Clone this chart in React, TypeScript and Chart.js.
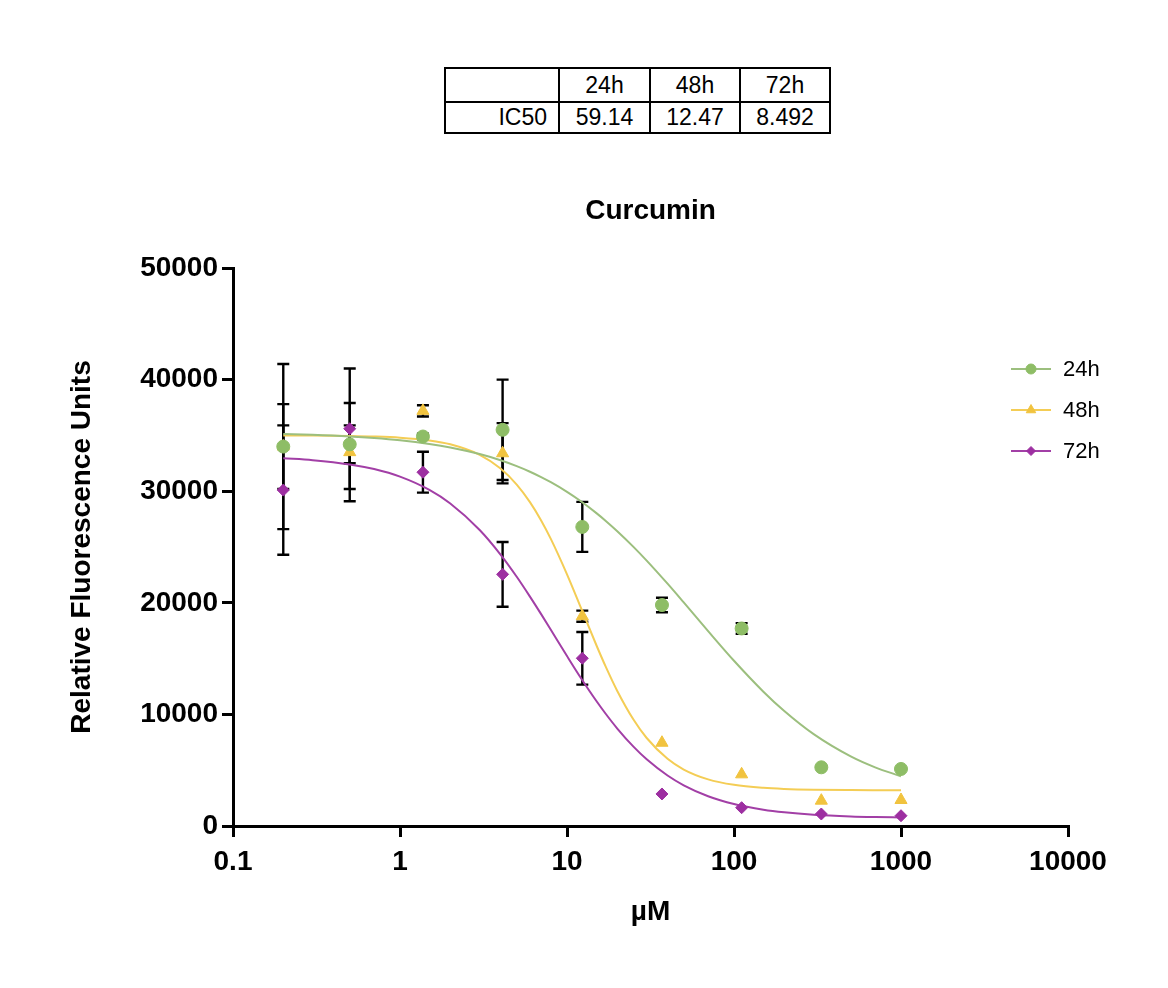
import React, { useEffect, useRef } from 'react';
import { Chart, registerables } from 'chart.js';
import { drawPoint } from 'chart.js/helpers';

Chart.register(...registerables);

// ---- data ----
const doses = [0.2, 0.5, 1.372, 4.115, 12.35, 37.04, 111.1, 333.3, 1000];

const resp24 = [34000, 34200, 34900, 35500, 26800, 19800, 17700, 5260, 5110];
const sd24 = [7400, 1700, 250, 4500, 2240, 650, 480, 0, 0];
const resp48 = [34000, 33500, 37200, 33400, 18800, 7460, 4630, 2270, 2330];
const sd48 = [3800, 4400, 500, 2700, 500, 0, 0, 0, 0];
const resp72 = [30100, 35600, 31700, 22550, 15030, 2870, 1640, 1075, 920];
const sd72 = [5800, 5400, 1830, 2900, 2360, 0, 0, 0, 0];

// fitted curves as they appear in the picture
const fitX = [0.2, 0.3, 0.5, 0.7, 1, 1.5, 2, 3, 4, 5, 6, 7, 8, 10, 12, 15, 17, 20, 25, 30, 40, 50, 70, 100, 150, 200, 300, 500, 700, 1000];
const fit24 = [35129, 35052, 34904, 34762, 34557, 34230, 33918, 33326, 32770, 32242, 31743, 31263, 30803, 29941, 29140, 28037, 27362, 26418, 25015, 23782, 21711, 20031, 17462, 14807, 12036, 10301, 8229, 6235, 5256, 4455];
const fit48 = [34992, 34982, 34949, 34900, 34797, 34546, 34202, 33260, 32033, 30595, 29020, 27379, 25724, 22551, 19710, 16196, 14323, 12100, 9536, 7884, 6017, 5062, 4178, 3687, 3418, 3323, 3255, 3220, 3210, 3205];
const fit72 = [32953, 32784, 32402, 31981, 31303, 30112, 28894, 26525, 24322, 22334, 20556, 18983, 17579, 15230, 13356, 11197, 10080, 8735, 7110, 5977, 4524, 3649, 2667, 1966, 1459, 1226, 1013, 862, 805, 766];

const seriesNames = ['24h', '48h', '72h'];
const ic50Values = ['59.14', '12.47', '8.492'];
const xTicks = [0.1, 1, 10, 100, 1000, 10000];
const xTickLabels = ['0.1', '1', '10', '100', '1000', '10000'];
const yTicks = [0, 10000, 20000, 30000, 40000, 50000];
const yTickLabels = ['0', '10000', '20000', '30000', '40000', '50000'];

const chartTitle = 'Curcumin';
const xTitle = 'µM';
const yTitle = 'Relative Fluorescence Units';

// ---- styles ----
const FONT = '"Liberation Sans", Arial, Helvetica, sans-serif';
const markerColors = ['#8ebd66', '#f1c33f', '#9d2fa1'];
const lineColors = ['#9cbf7e', '#f4cd55', '#a23fa6'];
const pointStyles = ['circle', 'triangle', 'rectRot'];
const pointRadii = [6.5, 7, 6];

const respSets = [resp24, resp48, resp72];
const sdSets = [sd24, sd48, sd72];
const fitSets = [fit24, fit48, fit72];

const errorBarPlugin = {
  id: 'errorBars',
  beforeDatasetsDraw(chart: any) {
    const { ctx } = chart;
    const xs = chart.scales.x;
    const ys = chart.scales.y;
    ctx.save();
    ctx.strokeStyle = '#000';
    ctx.lineWidth = 2.4;
    chart.data.datasets.forEach((ds: any) => {
      if (!ds.errors) return;
      ds.data.forEach((p: any, i: number) => {
        const e = ds.errors[i];
        if (!e) return;
        const x = xs.getPixelForValue(p.x);
        const yt = ys.getPixelForValue(p.y + e);
        const yb = ys.getPixelForValue(p.y - e);
        ctx.beginPath();
        ctx.moveTo(x, yt);
        ctx.lineTo(x, yb);
        ctx.moveTo(x - 6, yt);
        ctx.lineTo(x + 6, yt);
        ctx.moveTo(x - 6, yb);
        ctx.lineTo(x + 6, yb);
        ctx.stroke();
      });
    });
    ctx.restore();
  },
};

const decorPlugin = {
  id: 'decor',
  afterDraw(chart: any) {
    const { ctx } = chart;
    ctx.save();
    // title
    ctx.fillStyle = '#000';
    ctx.font = `bold 28px ${FONT}`;
    ctx.textAlign = 'center';
    ctx.textBaseline = 'middle';
    const area = chart.chartArea;
    ctx.fillText(chartTitle, (area.left + area.right) / 2, 203);
    // legend
    const lx1 = 1003, lx2 = 1043, tx = 1055;
    const ly = [361, 402, 443];
    seriesNames.forEach((name, i) => {
      ctx.strokeStyle = lineColors[i];
      ctx.lineWidth = 2;
      ctx.beginPath();
      ctx.moveTo(lx1, ly[i]);
      ctx.lineTo(lx2, ly[i]);
      ctx.stroke();
      ctx.fillStyle = markerColors[i];
      ctx.strokeStyle = markerColors[i];
      ctx.lineWidth = 1;
      drawPoint(ctx, { pointStyle: pointStyles[i] as any, rotation: 0, radius: pointRadii[i] - 1.5, borderWidth: 1 }, (lx1 + lx2) / 2, ly[i]);
      ctx.fillStyle = '#000';
      ctx.font = `22px ${FONT}`;
      ctx.textAlign = 'left';
      ctx.textBaseline = 'middle';
      ctx.fillText(name, tx, ly[i] + 1);
    });
    ctx.restore();
  },
};

function ChartCanvas() {
  const ref = useRef<HTMLCanvasElement | null>(null);
  useEffect(() => {
    if (!ref.current) return;
    Chart.defaults.font.family = FONT;
    const markerSets = respSets.map((vals, i) => ({
      label: seriesNames[i],
      data: doses.map((d, j) => ({ x: d, y: vals[j] })),
      errors: sdSets[i],
      showLine: false,
      pointStyle: pointStyles[i],
      pointRadius: pointRadii[i],
      pointBackgroundColor: markerColors[i],
      pointBorderColor: markerColors[i],
      pointBorderWidth: 1,
      backgroundColor: markerColors[i],
      borderColor: markerColors[i],
    }));
    const curveSets = fitSets.map((vals, i) => ({
      label: seriesNames[i] + ' fit',
      data: fitX.map((d, j) => ({ x: d, y: vals[j] })),
      showLine: true,
      pointRadius: 0,
      borderColor: lineColors[i],
      borderWidth: 2,
      cubicInterpolationMode: 'monotone',
      fill: false,
    }));
    const chart = new Chart(ref.current, {
      type: 'scatter',
      data: { datasets: [...markerSets, ...curveSets] as any },
      options: {
        animation: false,
        responsive: false,
        devicePixelRatio: 1,
        layout: { padding: { top: 260, right: 92, left: 0, bottom: 0 } },
        plugins: { legend: { display: false }, tooltip: { enabled: false }, title: { display: false } },
        scales: {
          x: {
            type: 'logarithmic',
            min: 0.1,
            max: 10000,
            afterBuildTicks: (s: any) => { s.ticks = xTicks.map((v) => ({ value: v })); },
            afterFit: (s: any) => { s.height = 154; },
            ticks: {
              color: '#000',
              font: { size: 28, weight: 'bold' },
              padding: 8,
              maxRotation: 0,
              autoSkip: false,
              callback: (_v: any, idx: number) => xTickLabels[idx],
            },
            grid: { display: true, drawOnChartArea: false, drawTicks: true, tickLength: 11, color: '#000', lineWidth: 3 },
            border: { display: true, color: '#000', width: 3 },
            title: { display: true, text: xTitle, color: '#000', font: { size: 28, weight: 'bold' }, padding: { top: 0, bottom: 51 } },
          },
          y: {
            type: 'linear',
            min: 0,
            max: 50000,
            afterBuildTicks: (s: any) => { s.ticks = yTicks.map((v) => ({ value: v })); },
            afterFit: (s: any) => { s.width = 225; },
            ticks: {
              color: '#000',
              font: { size: 28, weight: 'bold' },
              padding: 4,
              autoSkip: false,
              callback: (_v: any, idx: number) => yTickLabels[idx],
            },
            grid: { display: true, drawOnChartArea: false, drawTicks: true, tickLength: 11, color: '#000', lineWidth: 3 },
            border: { display: true, color: '#000', width: 3 },
            title: { display: true, text: yTitle, color: '#000', font: { size: 28, weight: 'bold' }, padding: { top: 57, bottom: 0 } },
          },
        },
      } as any,
      plugins: [errorBarPlugin, decorPlugin],
    });
    return () => chart.destroy();
  }, []);
  return <canvas ref={ref} width={1152} height={972} style={{ position: 'absolute', left: 0, top: 0, width: 1152, height: 972 }} />;
}

const cell: React.CSSProperties = {
  border: '2.5px solid #000',
  padding: 0,
  lineHeight: 1,
  textAlign: 'center',
  verticalAlign: 'middle',
};

function IC50Table() {
  return (
    <table
      style={{
        position: 'absolute',
        left: 436,
        top: 59,
        borderCollapse: 'collapse',
        tableLayout: 'fixed',
        width: 385,
        fontFamily: FONT,
        fontSize: 23,
        color: '#000',
        background: '#fff',
        zIndex: 2,
      }}
    >
      <colgroup>
        <col style={{ width: 114 }} />
        <col style={{ width: 91 }} />
        <col style={{ width: 90 }} />
        <col style={{ width: 90 }} />
      </colgroup>
      <tbody>
        <tr style={{ height: 34 }}>
          <td style={cell}></td>
          {seriesNames.map((n) => (
            <td key={n} style={cell}>{n}</td>
          ))}
        </tr>
        <tr style={{ height: 31 }}>
          <td style={{ ...cell, textAlign: 'right', paddingRight: 11 }}>IC50</td>
          {ic50Values.map((v) => (
            <td key={v} style={cell}>{v}</td>
          ))}
        </tr>
      </tbody>
    </table>
  );
}

export default function App() {
  return (
    <div style={{ position: 'relative', width: 1152, height: 972, background: '#fff' }}>
      <ChartCanvas />
      <IC50Table />
    </div>
  );
}
